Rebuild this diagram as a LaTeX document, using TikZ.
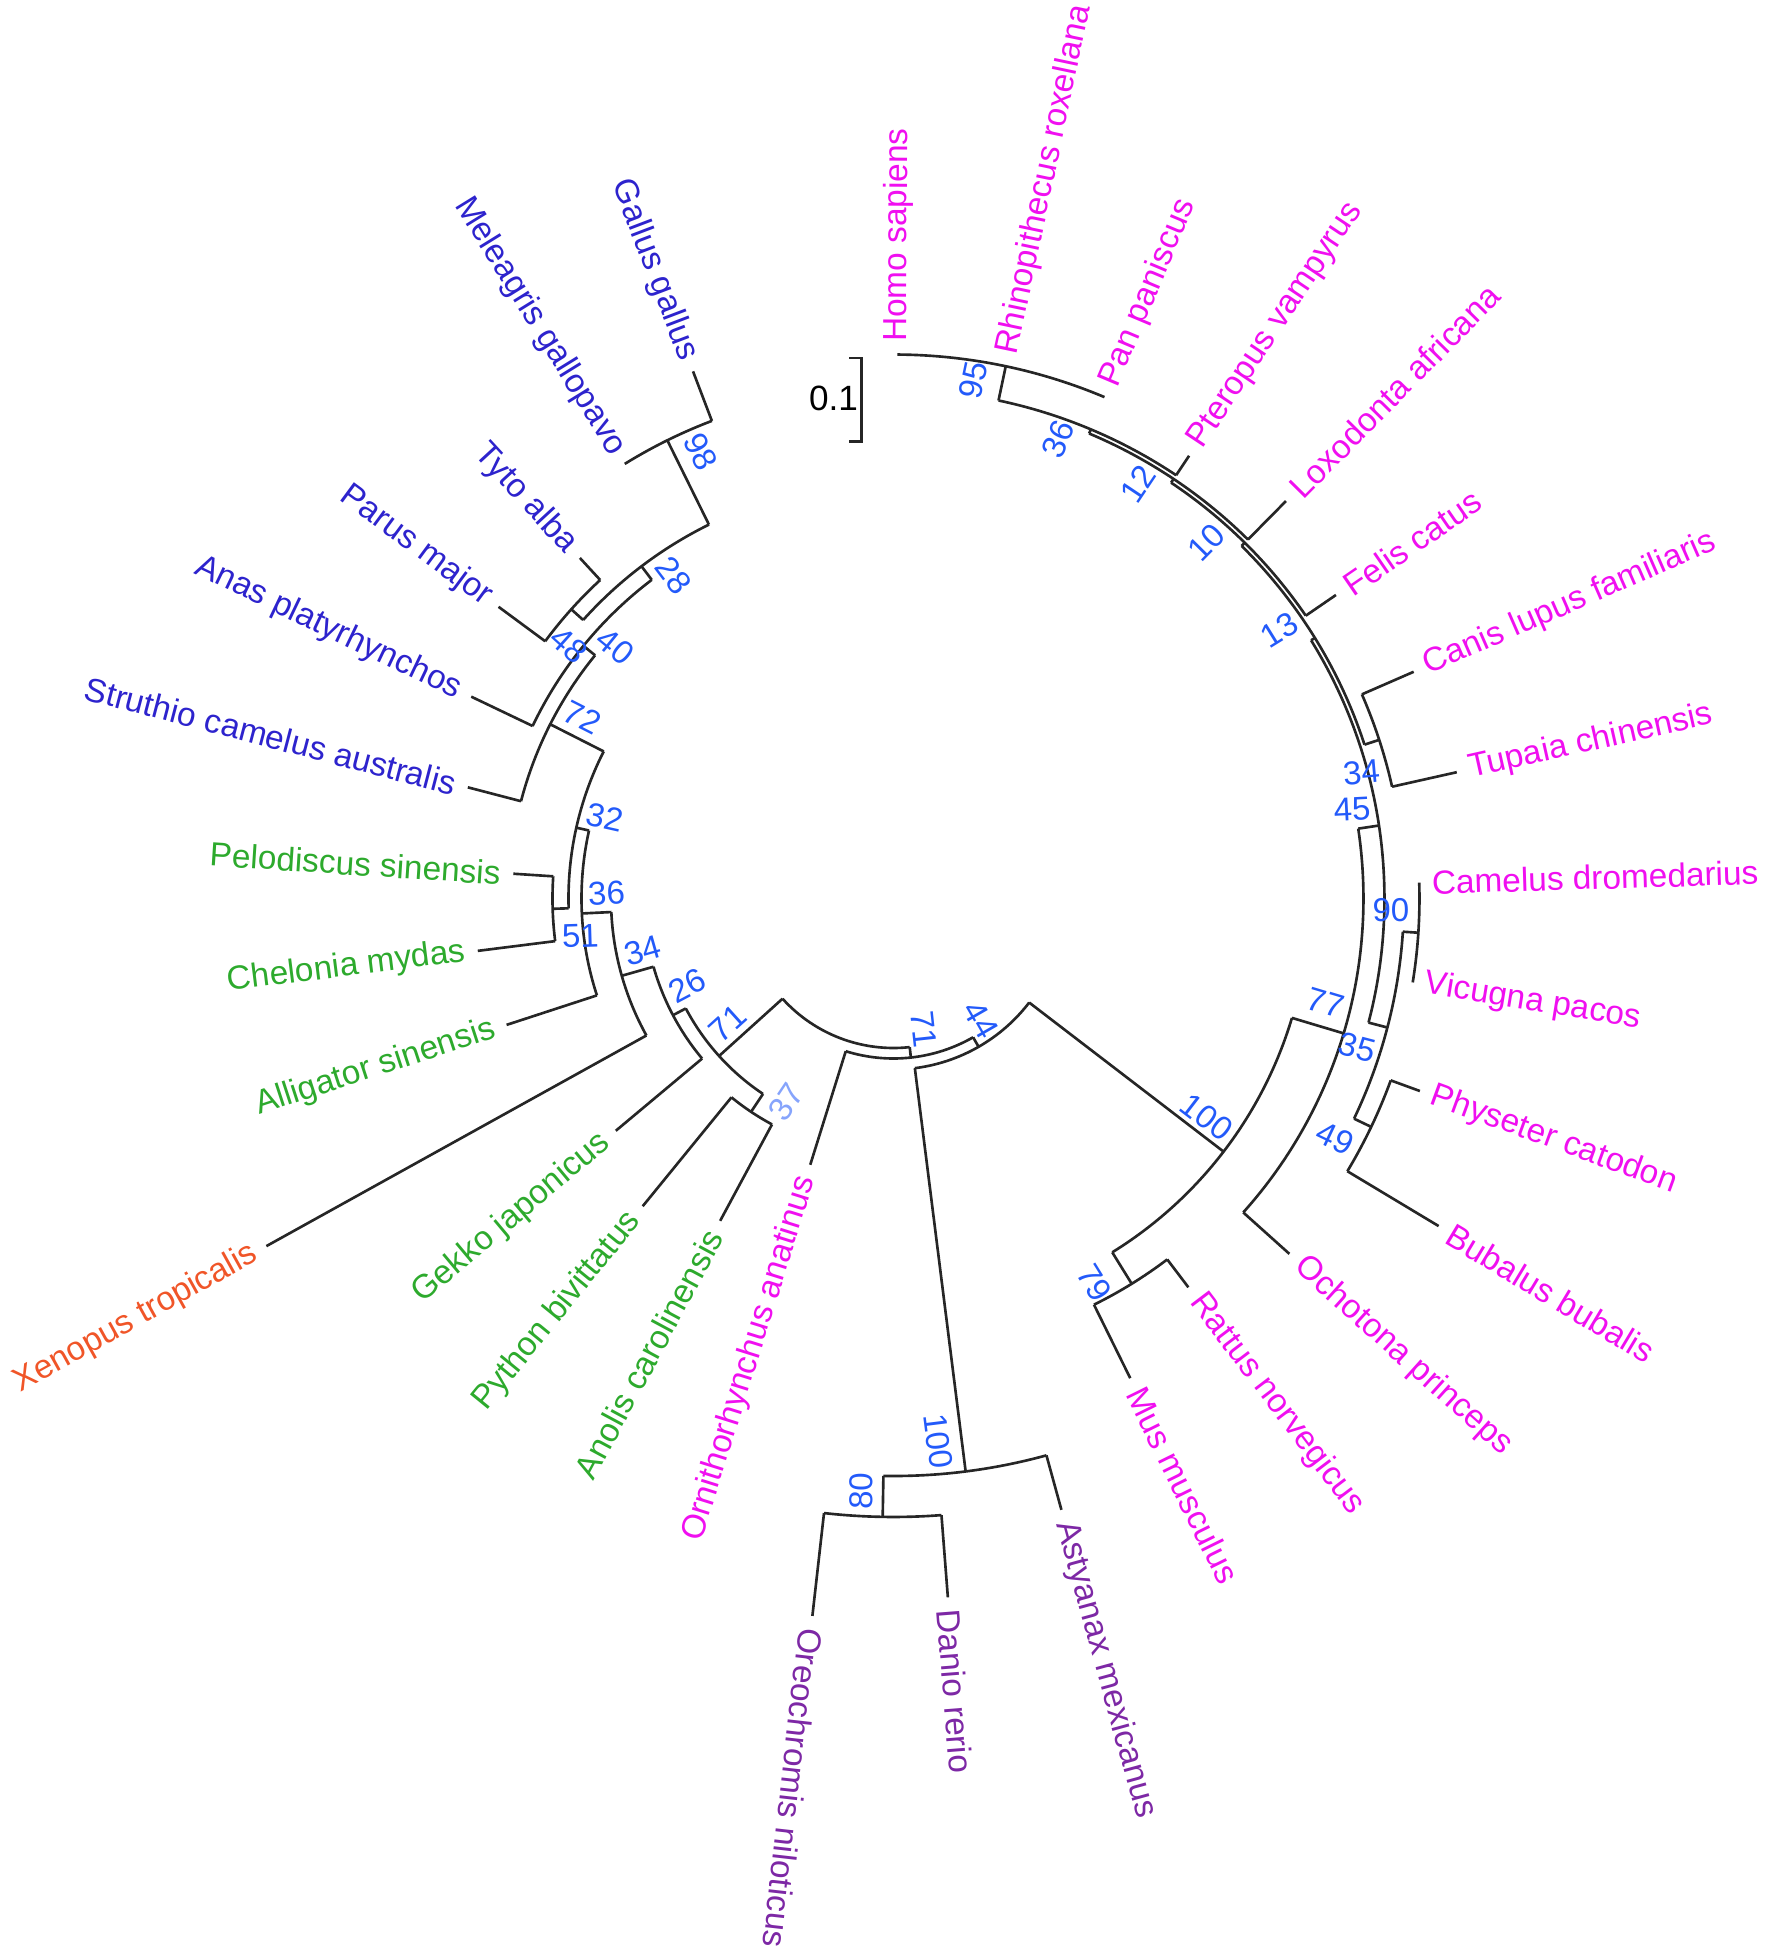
\documentclass[tikz,border=0pt]{standalone}
\usepackage{fontspec}
\setmainfont{Liberation Sans}
\definecolor{mam}{RGB}{240,15,240}
\definecolor{bird}{RGB}{45,35,205}
\definecolor{rept}{RGB}{45,170,45}
\definecolor{frog}{RGB}{240,85,40}
\definecolor{fish}{RGB}{125,40,165}
\definecolor{bsblue}{RGB}{35,90,250}
\newcommand\TArc[3]{\draw[tree] (#2:#1) arc[start angle=#2, end angle=#3, radius=#1];}
\newcommand\TRad[3]{\draw[tree] (#1:#2) -- (#1:#3);}
\newcommand\LeafR[5]{\node[leaf,text=#4,anchor=west,rotate=#1] (#5) at (#1:#2) {#3};}
\newcommand\LeafL[5]{\node[leaf,text=#4,anchor=east,rotate=#1+180] (#5) at (#1:#2) {#3};}
\newcommand\BS[4]{\node[bs,rotate=#2] (#4) at (#1) {#3};}
\begin{document}
\begin{tikzpicture}[
  tree/.style={draw=black!85, line width=0.75pt},
  leaf/.style={inner sep=0pt, font=\fontsize{9.5}{11}\selectfont},
  bs/.style={inner sep=0pt, text=bsblue, font=\fontsize{9.4}{11}\selectfont},
]
\useasboundingbox (-8.935,-10.575) rectangle (8.735,8.985);
% ---------- root and bottom ----------
\TArc{1.495}{-83.76}{-137.92}
\TRad{-83.76}{1.495}{1.60}
\TArc{1.60}{-60.15}{-107.36}
\TRad{-107.36}{1.60}{2.79}
\TRad{-60.15}{1.60}{1.71}
\TArc{1.71}{-37.48}{-82.82}
% fish
\TRad{-82.82}{1.71}{5.775}
\TArc{5.775}{-74.64}{-91.0}
\TRad{-74.64}{5.775}{6.34}
\TRad{-91.0}{5.775}{6.185}
\TArc{6.185}{-85.55}{-96.45}
\TRad{-85.55}{6.185}{7.01}
\TRad{-96.45}{6.185}{7.22}
% mammals
\TRad{-37.48}{1.71}{4.16}
\TArc{4.16}{-16.68}{-58.27}
\TRad{-58.27}{4.16}{4.53}
\TArc{4.53}{-52.82}{-63.73}
\TRad{-52.82}{4.53}{4.88}
\TRad{-63.73}{4.53}{5.35}
\TRad{-16.68}{4.16}{4.70}
\TArc{4.70}{8.55}{-41.91}
\TRad{-41.91}{4.70}{5.32}
\TRad{8.55}{4.70}{4.91}
\TArc{4.91}{31.73}{-14.64}
\TRad{-14.64}{4.91}{5.105}
\TArc{5.105}{-3.73}{-25.55}
\TRad{-3.73}{5.105}{5.26}
\TArc{5.26}{1.73}{-9.18}
\TRad{-25.55}{5.105}{5.295}
\TArc{5.295}{-20.09}{-31.00}
\TRad{-20.09}{5.295}{5.605}
\TRad{-31.00}{5.295}{6.36}
\TRad{31.73}{4.91}{4.955}
\TArc{4.955}{45.36}{18.09}
\TRad{18.09}{4.955}{5.11}
\TArc{5.11}{23.55}{12.64}
\TRad{23.55}{5.11}{5.675}
\TRad{12.64}{5.11}{5.773}
\TRad{45.36}{4.955}{5.00}
\TArc{5.00}{56.27}{34.45}
\TRad{34.45}{5.00}{5.366}
\TRad{56.27}{5.00}{5.045}
\TArc{5.045}{67.18}{45.36}
\TRad{45.36}{5.045}{5.586}
\TRad{67.18}{5.045}{5.09}
\TArc{5.09}{78.09}{56.27}
\TRad{56.27}{5.09}{5.324}
\TRad{78.09}{5.09}{5.44}
\TArc{5.44}{89.6}{67.18}
% ---------- left side ----------
\TRad{-137.92}{1.495}{2.35}
\TArc{2.35}{-123.73}{-152.11}
\TRad{-123.73}{2.35}{2.565}
\TArc{2.565}{-118.27}{-129.18}
\TRad{-118.27}{2.565}{3.66}
\TRad{-129.18}{2.565}{3.97}
\TRad{-152.11}{2.35}{2.495}
\TArc{2.495}{-140.09}{-164.13}
\TRad{-140.09}{2.495}{3.62}
\TRad{-164.13}{2.495}{2.825}
\TArc{2.825}{-151.00}{-177.25}
\TRad{-151.00}{2.825}{7.17}
\TRad{-177.25}{2.825}{3.12}
\TArc{3.12}{-161.91}{-192.59}
\TRad{-161.91}{3.12}{4.07}
\TRad{-192.59}{3.12}{3.25}
\TArc{3.25}{-178.27}{-206.91}
\TRad{-178.27}{3.25}{3.41}
\TArc{3.41}{-172.82}{-183.73}
\TRad{-172.82}{3.41}{4.19}
\TRad{-183.73}{3.41}{3.81}
\TRad{-206.91}{3.25}{3.85}
\TArc{3.85}{-194.64}{-219.18}
\TRad{-194.64}{3.85}{4.40}
\TRad{-219.18}{3.85}{4.00}
\TArc{4.00}{-205.55}{-232.82}
\TRad{-205.55}{4.00}{4.68}
\TRad{-232.82}{4.00}{4.17}
\TArc{4.17}{-221.91}{-243.73}
\TRad{-221.91}{4.17}{4.33}
\TArc{4.33}{-216.45}{-227.36}
\TRad{-216.45}{4.33}{4.91}
\TRad{-227.36}{4.33}{4.63}
\TRad{-243.73}{4.17}{5.11}
\TArc{5.11}{-238.27}{-249.18}
\TRad{-249.18}{5.11}{5.64}
% ---------- scale bar ----------
\draw[tree] (-0.44,5.405) -- (-0.318,5.405) -- (-0.318,4.567) -- (-0.44,4.567);
\node[leaf, font=\fontsize{10}{12}\selectfont] (scale) at (-0.60,5.00) {0.1};
% ---------- leaf labels ----------
\LeafR{89.6}{5.56}{Homo sapiens}{mam}{homo}
\LeafR{78.09}{5.56}{Rhinopithecus roxellana}{mam}{rhino}
\LeafR{67.18}{5.56}{Pan paniscus}{mam}{pan}
\LeafR{56.27}{5.444}{Pteropus vampyrus}{mam}{pter}
\LeafR{45.36}{5.706}{Loxodonta africana}{mam}{loxo}
\LeafR{34.45}{5.486}{Felis catus}{mam}{felis}
\LeafR{23.55}{5.795}{Canis lupus familiaris}{mam}{canis}
\LeafR{12.64}{5.893}{Tupaia chinensis}{mam}{tupaia}
\LeafR{1.73}{5.38}{Camelus dromedarius}{mam}{camel}
\LeafR{-9.18}{5.38}{Vicugna pacos}{mam}{vicugna}
\LeafR{-20.09}{5.725}{Physeter catodon}{mam}{physeter}
\LeafR{-31.00}{6.48}{Bubalus bubalis}{mam}{bubalus}
\LeafR{-41.91}{5.44}{Ochotona princeps}{mam}{ochotona}
\LeafR{-52.82}{5.00}{Rattus norvegicus}{mam}{rattus}
\LeafR{-63.73}{5.47}{Mus musculus}{mam}{mus}
\LeafR{-74.64}{6.46}{Astyanax mexicanus}{fish}{astyanax}
\LeafR{-85.55}{7.13}{Danio rerio}{fish}{danio}
\LeafR{-96.45}{7.34}{Oreochromis niloticus}{fish}{oreo}
\LeafL{-107.36}{2.91}{Ornithorhynchus anatinus}{mam}{ornitho}
\LeafL{-118.27}{3.78}{Anolis carolinensis}{rept}{anolis}
\LeafL{-129.18}{4.09}{Python bivittatus}{rept}{python}
\LeafL{-140.09}{3.74}{Gekko japonicus}{rept}{gekko}
\LeafL{-151.00}{7.29}{Xenopus tropicalis}{frog}{xenopus}
\LeafL{-161.91}{4.19}{Alligator sinensis}{rept}{alligator}
\LeafL{-172.82}{4.31}{Chelonia mydas}{rept}{chelonia}
\LeafL{-183.73}{3.93}{Pelodiscus sinensis}{rept}{pelodiscus}
\LeafL{-194.64}{4.52}{Struthio camelus australis}{bird}{struthio}
\LeafL{-205.55}{4.80}{Anas platyrhynchos}{bird}{anas}
\LeafL{-216.45}{5.03}{Parus major}{bird}{parus}
\LeafL{-227.36}{4.75}{Tyto alba}{bird}{tyto}
\LeafL{-238.27}{5.23}{Meleagris gallopavo}{bird}{meleagris}
\LeafL{-249.18}{5.76}{Gallus gallus}{bird}{gallus}
% ---------- bootstrap values ----------
\BS{0.799,5.179}{78.09}{95}{b95}
\BS{1.647,4.592}{67.18}{36}{b36}
\BS{2.446,4.143}{56.27}{12}{b12}
\BS{3.132,3.557}{45.36}{10}{b10}
\BS{3.856,2.683}{31.73}{13}{b13}
\BS{4.680,1.260}{5}{34}{b34}
\BS{4.586,0.892}{3}{45}{b45}
\BS{4.975,-0.120}{0}{90}{b90}
\BS{4.320,-1.045}{-16.68}{77}{b77}
\BS{4.637,-1.490}{-14.64}{35}{b35}
\BS{4.418,-2.396}{-25.55}{49}{b49}
\BS{3.132,-2.184}{-37.48}{100}{b100m}
\BS{2.009,-3.843}{-58.27}{79}{b79}
\BS{0.449,-5.428}{-82.82}{100}{b100f}
\BS{-0.324,-5.927}{89}{80}{b80}
\BS{0.874,-1.210}{-60.15}{44}{b44}
\BS{0.300,-1.310}{-83.76}{71}{b71b}
\BS{-1.660,-1.248}{42.08}{71}{b71l}
\BS{-2.059,-0.873}{27.89}{26}{b26}
\BS{-2.508,-0.524}{15.87}{34}{b34l}
\BS{-2.870,0.050}{2.75}{36}{b36l}
\BS{-3.132,-0.374}{1.73}{51}{b51}
\BS{-2.883,0.811}{-12.59}{32}{b32}
\BS{-3.110,1.810}{-26.91}{72}{b72}
\BS{-3.245,2.533}{-41.91}{48}{b48}
\BS{-2.783,2.521}{-39.18}{40}{b40}
\BS{-2.200,3.228}{-52.82}{28}{b28}
\BS{-1.928,4.470}{-63.73}{98}{b98}
\node[bs,rotate=56.27,text=bsblue!55] (b37) at (-1.073,-2.034) {37};
\end{tikzpicture}
\end{document}
